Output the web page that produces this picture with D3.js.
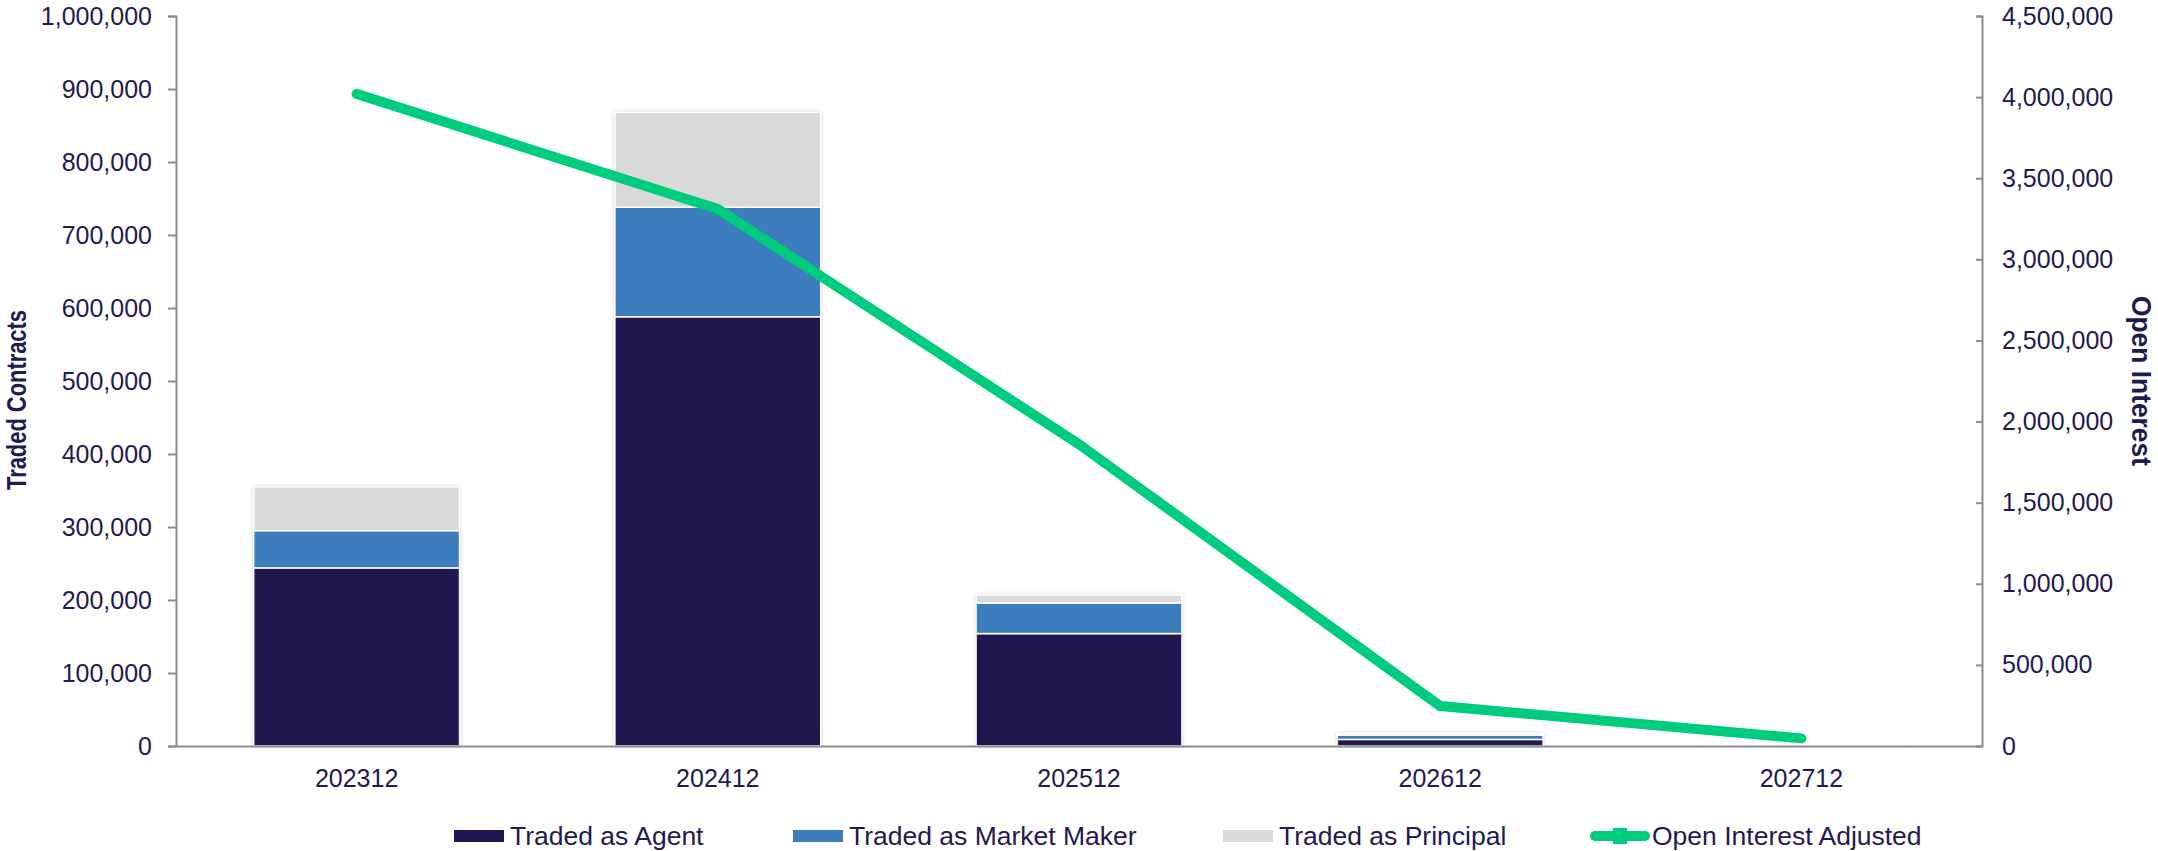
<!DOCTYPE html>
<html>
<head>
<meta charset="utf-8">
<script src="https://cdn.jsdelivr.net/npm/d3@7"></script>
<style>
  body { margin: 0; background: #fff; }
  svg text { font-family: "Liberation Sans", Arial, sans-serif; fill: #1F1A4F; }
</style>
</head>
<body>
<div id="chart"></div>
<script>
// data
const categories = ["202312", "202412", "202512", "202612", "202712"];
const tradedAgent = [244000, 588000, 154000, 9000, 300];
const tradedMarketMaker = [51000, 150000, 42000, 6000, 200];
const tradedPrincipal = [60000, 130000, 11000, 2500, 1500];
const openInterest = [4020000, 3310000, 1860000, 246000, 47000];
const leftTicks = d3.range(0, 1000001, 100000);
const rightTicks = d3.range(0, 4500001, 500000);

const seriesNames = ["Traded as Agent", "Traded as Market Maker", "Traded as Principal"];
const lineName = "Open Interest Adjusted";
const colors = ["#201751", "#3C7DBD", "#D9D9D9"];
const lineColor = "#00CC7E";

const W = 2158, H = 851;
const margin = { top: 16, right: 176, bottom: 105, left: 176 };
const plotW = W - margin.left - margin.right;
const plotH = H - margin.top - margin.bottom;

const svg = d3.select("#chart").append("svg")
  .attr("width", W).attr("height", H);

const defs = svg.append("defs");
const glow = defs.append("filter").attr("id", "glow")
  .attr("x", "-10%").attr("y", "-10%").attr("width", "120%").attr("height", "120%");
glow.append("feDropShadow")
  .attr("dx", 0).attr("dy", 0).attr("stdDeviation", 2.2)
  .attr("flood-color", "#888").attr("flood-opacity", 0.55);

const g = svg.append("g").attr("transform", `translate(${margin.left},${margin.top})`);

const x = d3.scaleBand().domain(categories).range([0, plotW])
  .paddingInner(0.43).paddingOuter(0.215);
const y = d3.scaleLinear().domain([0, 1000000]).range([plotH, 0]);
const y2 = d3.scaleLinear().domain([0, 4500000]).range([plotH, 0]);

const rows = categories.map((c, i) => ({
  cat: c,
  [seriesNames[0]]: tradedAgent[i],
  [seriesNames[1]]: tradedMarketMaker[i],
  [seriesNames[2]]: tradedPrincipal[i]
}));
const stacked = d3.stack().keys(seriesNames)(rows);

// shadow behind each whole bar
g.append("g").selectAll("rect")
  .data(rows)
  .join("rect")
  .attr("x", d => x(d.cat))
  .attr("width", x.bandwidth())
  .attr("y", (d, i) => y(stacked[2][i][1]))
  .attr("height", (d, i) => y(0) - y(stacked[2][i][1]))
  .attr("fill", "#fff")
  .attr("filter", "url(#glow)");

g.append("g").selectAll("g")
  .data(stacked)
  .join("g")
  .attr("fill", (d, i) => colors[i])
  .selectAll("rect")
  .data(d => d)
  .join("rect")
  .attr("x", d => x(d.data.cat))
  .attr("width", x.bandwidth())
  .attr("y", d => y(d[1]))
  .attr("height", d => Math.max(0, y(d[0]) - y(d[1])))
  .attr("stroke", "#fff")
  .attr("stroke-width", 1.5);

// axes
const axisColor = "#8c8c8c";
const leftAxis = g.append("g")
  .call(d3.axisLeft(y).tickValues(leftTicks).tickSize(8).tickPadding(16)
    .tickFormat(d3.format(",")));
const rightAxis = g.append("g").attr("transform", `translate(${plotW},0)`)
  .call(d3.axisRight(y2).tickValues(rightTicks).tickSize(-6).tickPadding(20)
    .tickFormat(d3.format(",")));
const bottomAxis = g.append("g").attr("transform", `translate(0,${plotH})`)
  .call(d3.axisBottom(x).tickSize(0).tickPadding(18).tickSizeOuter(0));

[leftAxis, rightAxis, bottomAxis].forEach(a => {
  a.selectAll("path, line").attr("stroke", axisColor).attr("stroke-width", 2);
  a.selectAll("text").style("font-size", "25px").attr("fill", "#1F1A4F");
});
bottomAxis.selectAll("text").attr("dy", "0.9em");

// open interest line
const line = d3.line()
  .x((d, i) => x(categories[i]) + x.bandwidth() / 2)
  .y(d => y2(d));
g.append("path")
  .datum(openInterest)
  .attr("d", line)
  .attr("fill", "none")
  .attr("stroke", lineColor)
  .attr("stroke-width", 10)
  .attr("stroke-linecap", "round")
  .attr("stroke-linejoin", "round");

// axis titles (narrow bold look)
svg.append("text")
  .attr("transform", `translate(26,400) rotate(-90)`)
  .attr("text-anchor", "middle")
  .attr("textLength", 180).attr("lengthAdjust", "spacingAndGlyphs")
  .style("font-size", "27px").style("font-weight", "bold")
  .text("Traded Contracts");
svg.append("text")
  .attr("transform", `translate(2132,381) rotate(90)`)
  .attr("text-anchor", "middle")
  .attr("textLength", 170).attr("lengthAdjust", "spacingAndGlyphs")
  .style("font-size", "27px").style("font-weight", "bold")
  .text("Open Interest");

// legend
const legendX = [454, 793, 1223, 1591];
const legendY = 836;
const legend = svg.append("g");
seriesNames.forEach((name, i) => {
  legend.append("rect")
    .attr("x", legendX[i]).attr("y", legendY - 6)
    .attr("width", 50).attr("height", 12)
    .attr("fill", colors[i]);
  legend.append("text")
    .attr("x", legendX[i] + 56).attr("y", legendY)
    .attr("dy", "0.35em")
    .style("font-size", "26.5px")
    .text(name);
});
legend.append("line")
  .attr("x1", legendX[3] + 4).attr("x2", legendX[3] + 54)
  .attr("y1", legendY).attr("y2", legendY)
  .attr("stroke", lineColor).attr("stroke-width", 10)
  .attr("stroke-linecap", "round");
legend.append("rect")
  .attr("x", legendX[3] + 22).attr("y", legendY - 8)
  .attr("width", 14).attr("height", 16)
  .attr("fill", lineColor);
legend.append("text")
  .attr("x", legendX[3] + 61).attr("y", legendY)
  .attr("dy", "0.35em")
  .style("font-size", "26.5px")
  .text(lineName);
</script>
</body>
</html>
